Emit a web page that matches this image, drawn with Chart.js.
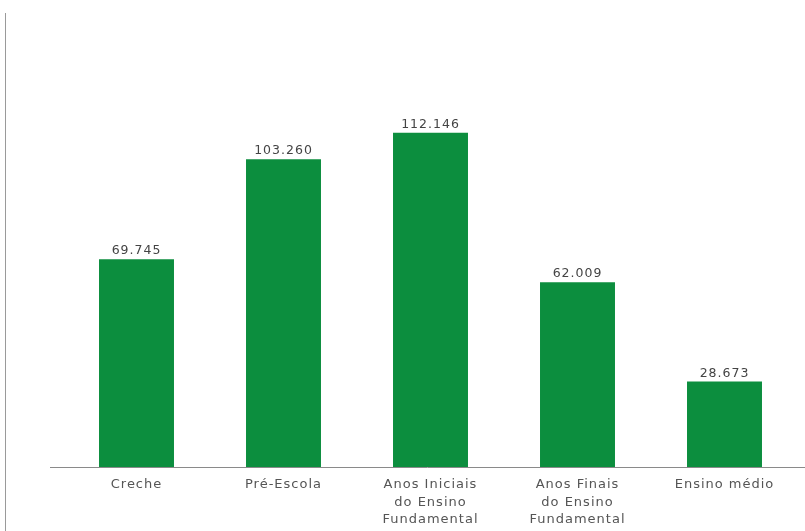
<!DOCTYPE html>
<html>
<head>
<meta charset="utf-8">
<script src="https://cdn.jsdelivr.net/npm/chart.js@4.4.1/dist/chart.umd.min.js"></script>
<style>
  html, body { margin: 0; padding: 0; background: #fff; }
  #wrap { position: relative; width: 805px; height: 531px; }
  #edge { position: absolute; left: 5px; top: 13px; width: 1px; height: 518px; background: #9a9a9a; }
</style>
</head>
<body>
<div id="wrap">
  <div id="edge"></div>
  <canvas id="chart" width="805" height="531"></canvas>
</div>
<script>
// categorias (rótulos do eixo x, quebrados em linhas)
const categories = [
    ['Creche'],
    ['Pré-Escola'],
    ['Anos Iniciais', 'do Ensino', 'Fundamental'],
    ['Anos Finais', 'do Ensino', 'Fundamental'],
    ['Ensino médio']
];
// matrículas por etapa
const values = [69745, 103260, 112146, 62009, 28673];

const BAR_COLOR = '#0c8e3e';
const TEXT_COLOR = '#555555';
const FONT = '"DejaVu Sans", sans-serif';

// formata número no padrão brasileiro (69.745)
function formatBR(n) {
    return String(n).replace(/\B(?=(\d{3})+(?!\d))/g, '.');
}

// espaçamento entre letras (texto do original é mais largo)
const spacing = {
    id: 'spacing',
    beforeLayout(chart) { chart.ctx.letterSpacing = '1px'; },
    beforeDraw(chart) { chart.ctx.letterSpacing = '1px'; }
};

// rótulos de valor acima das barras
const valueLabels = {
    id: 'valueLabels',
    afterDatasetsDraw(chart) {
        const ctx = chart.ctx;
        const meta = chart.getDatasetMeta(0);
        ctx.save();
        ctx.letterSpacing = '1px';
        ctx.font = '12.5px ' + FONT;
        ctx.fillStyle = '#444444';
        ctx.textAlign = 'center';
        ctx.textBaseline = 'bottom';
        meta.data.forEach((bar, i) => {
            ctx.fillText(formatBR(values[i]), bar.x, bar.y - 2);
        });
        ctx.restore();
    }
};

// linha de base estendida até a borda
const baseLine = {
    id: 'baseLine',
    afterDraw(chart) {
        const ctx = chart.ctx;
        const y = chart.scales.y.getPixelForValue(0);
        ctx.save();
        ctx.strokeStyle = '#8a8a8a';
        ctx.lineWidth = 1;
        ctx.beginPath();
        ctx.moveTo(50, Math.round(y) + 0.5);
        ctx.lineTo(chart.width, Math.round(y) + 0.5);
        ctx.stroke();
        ctx.restore();
    }
};

new Chart(document.getElementById('chart').getContext('2d'), {
    type: 'bar',
    data: {
        labels: categories,
        datasets: [{
            data: values,
            backgroundColor: BAR_COLOR,
            categoryPercentage: 1,
            barPercentage: 0.51
        }]
    },
    options: {
        responsive: false,
        animation: false,
        layout: { padding: { top: 20, left: 63, right: 7, bottom: 0 } },
        plugins: {
            legend: { display: false },
            tooltip: { enabled: false }
        },
        scales: {
            x: {
                grid: { display: false, drawTicks: false },
                border: { display: false },
                ticks: {
                    color: TEXT_COLOR,
                    font: { family: FONT, size: 13, lineHeight: 1.35 },
                    padding: 9,
                    maxRotation: 0,
                    autoSkip: false
                },
                afterFit(scale) { scale.height = 64; }
            },
            y: {
                display: false,
                min: 0,
                max: 150000
            }
        }
    },
    plugins: [spacing, valueLabels, baseLine]
});
</script>
</body>
</html>
